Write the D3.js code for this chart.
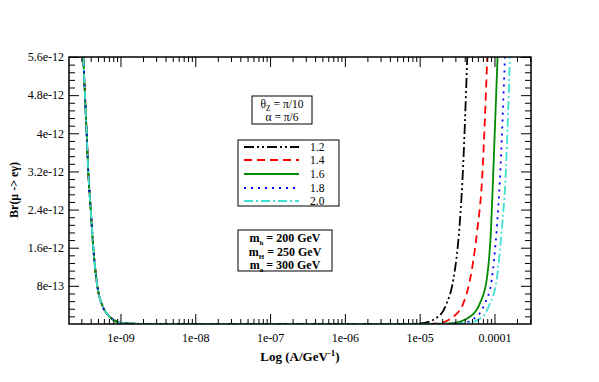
<!DOCTYPE html>
<html><head><meta charset="utf-8">
<script src="https://cdn.jsdelivr.net/npm/d3@7/dist/d3.min.js"></script>
<style>body{margin:0;background:#fff}svg{display:block}text{font-family:"Liberation Serif","Times New Roman",serif}</style>
</head><body>
<script>
// ---- data ----
const seriesNames = ["1.2", "1.4", "1.6", "1.8", "2.0"];
// shared left branch (all series coincide)
const leftA  = [3.18e-10, 3.53e-10, 3.71e-10, 4.0e-10, 4.33e-10, 4.9e-10, 5.83e-10, 7.24e-10, 1.05e-9, 2.0e-9, 1e-8, 1e-7, 1e-6];
const leftBr = [5.6e-12, 4.0e-12, 3.2e-12, 2.4e-12, 1.6e-12, 0.8e-12, 0.357e-12, 0.147e-12, 0.02e-12, 0.003e-12, 0, 0, 0];
// right branches
const rightA = [
  [1.01e-5, 1.77e-5, 2.30e-5, 2.81e-5, 3.38e-5, 3.73e-5, 4.33e-5],
  [1.70e-5, 2.81e-5, 3.83e-5, 4.70e-5, 5.89e-5, 6.81e-5, 8.01e-5],
  [2.54e-5, 4.70e-5, 6.39e-5, 7.86e-5, 8.98e-5, 9.55e-5, 1.10e-4],
  [3.46e-5, 5.78e-5, 7.46e-5, 9.18e-5, 1.07e-4, 1.18e-4, 1.38e-4],
  [4.04e-5, 6.95e-5, 8.71e-5, 1.07e-4, 1.25e-4, 1.40e-4, 1.61e-4]
];
const rightBr = [0.01e-12, 0.153e-12, 0.434e-12, 0.92e-12, 1.97e-12, 3.0e-12, 5.6e-12];
const yTickValues = [8e-13, 1.6e-12, 2.4e-12, 3.2e-12, 4e-12, 4.8e-12, 5.6e-12];
const yTickLabels = ["8e-13", "1.6e-12", "2.4e-12", "3.2e-12", "4e-12", "4.8e-12", "5.6e-12"];
const xTickValues = [1e-9, 1e-8, 1e-7, 1e-6, 1e-5, 1e-4];
const xTickLabels = ["1e-09", "1e-08", "1e-07", "1e-06", "1e-05", "0.0001"];
const colors = ["#000000", "#ff0000", "#008b00", "#0000ff", "#40e0d0"];
const dashes = ["10,3,2,3,2,3", "8,5", null, "2,5", "9,3,2,3"];

// ---- layout ----
const W = 599, H = 382;
const m = {left: 69, right: 531, top: 57, bottom: 324};
const svg = d3.select("body").append("svg").attr("width", W).attr("height", H);
const x = d3.scaleLog().domain([2.05e-10, 3.08e-4]).range([m.left, m.right]);
const y = d3.scaleLinear().domain([0, 5.6e-12]).range([m.bottom, m.top]);
const font = "Liberation Serif, Times New Roman, serif";

// curves
const clipId = "clip";
svg.append("clipPath").attr("id", clipId).append("rect")
  .attr("x", m.left).attr("y", m.top - 1).attr("width", m.right - m.left).attr("height", m.bottom - m.top + 1);
const line = d3.line().x(d => x(d[0])).y(d => y(d[1])).curve(d3.curveMonotoneX);
const g = svg.append("g").attr("clip-path", `url(#${clipId})`);
seriesNames.forEach((s, i) => {
  const pts = leftA.map((a, j) => [a, leftBr[j]]).concat([[rightA[i][0] * 0.6, 0]], rightA[i].map((a, j) => [a, rightBr[j]]));
  g.append("path").datum(pts).attr("d", line).attr("fill", "none")
    .attr("stroke", colors[i]).attr("stroke-width", 1.8)
    .attr("stroke-dasharray", dashes[i]);
});

// frame
svg.append("rect").attr("x", m.left).attr("y", m.top).attr("width", m.right - m.left)
  .attr("height", m.bottom - m.top).attr("fill", "none").attr("stroke", "#000").attr("stroke-width", 1.5);

// ticks (inward, all sides)
const xMinor = [];
for (let e = -10; e <= -4; e++) for (let k = 2; k <= 9; k++) { const v = k * Math.pow(10, e); if (v > 2.05e-10 && v < 3.08e-4) xMinor.push(v); }
const yMinor = d3.range(1, 35).map(i => i * 0.16e-12).filter(v => !yTickValues.some(t => Math.abs(t - v) < 1e-15));
const axB = d3.axisBottom(x).tickValues(xTickValues).tickFormat((d, i) => xTickLabels[i]).tickSizeInner(-10).tickSizeOuter(0).tickPadding(9);
const axBm = d3.axisBottom(x).tickValues(xMinor).tickFormat("").tickSizeInner(-5).tickSizeOuter(0);
const axT = d3.axisTop(x).tickValues(xTickValues).tickFormat("").tickSizeInner(-10).tickSizeOuter(0);
const axTm = d3.axisTop(x).tickValues(xMinor).tickFormat("").tickSizeInner(-5).tickSizeOuter(0);
const axL = d3.axisLeft(y).tickValues(yTickValues).tickFormat((d, i) => yTickLabels[i]).tickSizeInner(-10).tickSizeOuter(0).tickPadding(5);
const axLm = d3.axisLeft(y).tickValues(yMinor).tickFormat("").tickSizeInner(-6).tickSizeOuter(0);
const axR = d3.axisRight(y).tickValues(yTickValues).tickFormat("").tickSizeInner(-10).tickSizeOuter(0);
const axRm = d3.axisRight(y).tickValues(yMinor).tickFormat("").tickSizeInner(-6).tickSizeOuter(0);
function put(ax, tx, ty) {
  const a = svg.append("g").attr("transform", `translate(${tx},${ty})`).call(ax)
    .attr("font-family", font).attr("font-size", 12);
  a.select(".domain").remove();
  a.selectAll("line").attr("stroke", "#000").attr("stroke-width", 1);
  a.selectAll("text").style("font-family", font).attr("font-size", 12).attr("fill", "#000");
  return a;
}
put(axB, 0, m.bottom); put(axBm, 0, m.bottom);
put(axT, 0, m.top); put(axTm, 0, m.top);
put(axL, m.left, 0); put(axLm, m.left, 0);
put(axR, m.right, 0); put(axRm, m.right, 0);

// axis titles
const xt = svg.append("text").attr("x", 300).attr("y", 361).attr("text-anchor", "middle")
  .attr("font-size", 13).attr("font-weight", "bold");
xt.append("tspan").text("Log (A/GeV");
xt.append("tspan").attr("dy", -5).attr("font-size", 9).text("-1");
xt.append("tspan").attr("dy", 5).text(")");
svg.append("text").attr("transform", "translate(18,190) rotate(-90)").attr("text-anchor", "middle")
  .attr("font-size", 12).attr("font-weight", "bold").text("Br(μ -> eγ)");

// info box 1
svg.append("rect").attr("x", 252).attr("y", 96).attr("width", 60).attr("height", 28)
  .attr("fill", "#fff").attr("stroke", "#000").attr("stroke-width", 1);
const t1 = svg.append("text").attr("x", 282).attr("y", 107.5).attr("text-anchor", "middle")
  .attr("font-size", 11.5);
t1.append("tspan").text("θ");
t1.append("tspan").attr("dy", 3).attr("font-size", 7.5).text("Z");
t1.append("tspan").attr("dy", -3).text(" = π/10");
svg.append("text").attr("x", 282).attr("y", 121).attr("text-anchor", "middle")
  .attr("font-size", 11.5).text("α = π/6");

// legend
svg.append("rect").attr("x", 238).attr("y", 140).attr("width", 101).attr("height", 66)
  .attr("fill", "#fff").attr("stroke", "#000").attr("stroke-width", 1);
const rowY = [147, 160, 174, 188, 201];
seriesNames.forEach((s, i) => {
  svg.append("line").attr("x1", 244).attr("x2", 299).attr("y1", rowY[i]).attr("y2", rowY[i])
    .attr("stroke", colors[i]).attr("stroke-width", 1.8).attr("stroke-dasharray", dashes[i]);
  svg.append("text").attr("x", 310).attr("y", rowY[i] + 4).attr("font-size", 11.5).text(s);
});

// mass box
svg.append("rect").attr("x", 238).attr("y", 230).attr("width", 94).attr("height", 41)
  .attr("fill", "#fff").attr("stroke", "#000").attr("stroke-width", 1);
const masses = [["h", "200"], ["H", "250"], ["a", "300"]];
const mY = [242, 256, 269];
masses.forEach((mm, i) => {
  const t = svg.append("text").attr("x", 285).attr("y", mY[i]).attr("text-anchor", "middle")
    .attr("font-size", 12).attr("font-weight", "bold");
  t.append("tspan").text("m");
  t.append("tspan").attr("dy", 3).attr("font-size", 7).text(mm[0]);
  t.append("tspan").attr("dy", -3).text(" = " + mm[1] + "  GeV");
});
</script>
</body></html>
